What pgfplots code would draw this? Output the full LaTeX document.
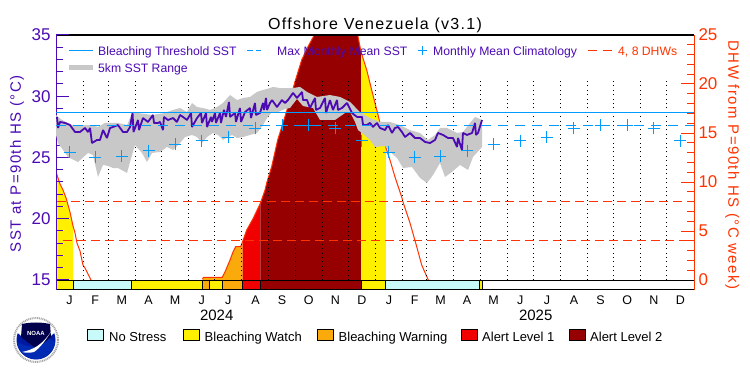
\documentclass[border=0pt]{standalone}
\usepackage{fontspec}
\setmainfont{Liberation Sans}
\usepackage{pgfplots}
\usepackage{pgfplotstable}
\pgfplotsset{compat=1.18}
\definecolor{pur}{RGB}{75,10,180}
\definecolor{blu}{RGB}{0,155,255}
\definecolor{ora}{RGB}{255,51,0}
\definecolor{ywl}{RGB}{255,240,0}
\definecolor{org}{RGB}{250,170,10}
\definecolor{red1}{RGB}{240,0,0}
\definecolor{red2}{RGB}{150,0,0}
\definecolor{cya}{RGB}{200,250,250}
\definecolor{gry}{RGB}{200,200,200}
\pgfplotstableread{
x y
0 28.47
6.9 28.06
18.3 27.65
29.8 27.65
41.2 27.65
48.1 27.49
56.1 27.82
71 27.82
81.4 27.65
87.1 28.63
94 28.63
110 28.47
124.9 28.63
127.2 28.71
134.1 28.88
142.1 29.04
150.1 28.71
155.8 29.45
161.6 29.12
168.4 29.04
176.5 28.88
184.5 29.12
191.3 29.45
199.4 30.10
207.4 29.69
214.3 29.86
222.3 29.94
230.3 30.35
237.2 30.51
245.2 30.67
248.6 30.76
256.7 30.67
271.6 30.67
279.6 30.76
287.6 30.35
299 29.94
313.9 30.10
325.4 29.94
336.9 29.53
348.3 28.71
359.8 28.22
371.2 27.90
382.7 27.90
394.2 27.65
405.6 27.24
417.1 27.00
426.2 26.43
434.3 26.84
440 27.41
448 27.41
459.5 27.00
466.3 27.08
474.4 27.82
480.1 28.31
488.1 28.06
488.1 25.86
477.8 25.04
472.1 23.98
462.9 24.39
453.7 23.82
445.7 23.41
440 24.55
432 23.57
425.1 22.92
417.1 23.33
407.9 24.22
397.6 24.14
390.7 24.96
382.7 25.45
377 25.94
365.5 25.86
359.8 26.43
350.6 27.0
346 27.24
342.6 27.9
336.9 28.71
331.1 28.63
319.7 28.06
302.5 28.06
294.5 29.04
283 29.2
276.1 29.78
268.1 29.04
262.4 28.96
254.4 28.71
247.5 28.71
241.8 28.22
237.2 27.65
230.3 27.0
222.3 26.84
214.3 26.67
207.4 26.59
201.7 26.84
191.3 26.43
185.6 26.84
179.9 27.0
173 26.67
167.3 26.18
161.6 26.67
155.8 26.84
147.8 26.67
142.1 26.18
134.1 25.61
127.2 25.86
119.2 25.45
110 25.37
104.3 24.63
98.5 25.37
90.5 26.02
84.8 24.63
81.4 23.73
71 24.14
65.3 24.14
59.6 24.31
53.9 24.39
48.1 23.41
42.4 25.20
36.7 25.37
25.2 24.63
13.7 25.04
2.3 26.18
0 26.84
}\tabrange
\pgfplotstableread{
x y
1.1 28.31
2.3 27.41
4.6 27.90
10.3 27.82
16 27.65
21.8 27.08
27.5 27.08
33.2 27.41
36.7 27.08
39 27.41
41.2 26.18
47 26.43
50.4 26.43
53.9 27.24
58.4 26.59
61.9 27.41
65.3 27.49
71 27.65
76.8 27.08
81.4 27.08
84.8 27.49
87.7 28.63
88.8 27.08
94 28.06
95.1 27.24
99.7 28.22
105.4 27.90
111.1 28.47
112.3 27.82
116.9 27.82
119.2 27.9
122.6 27.24
123.7 28.31
128.3 28.06
134.1 28.22
138.6 27.9
142.1 28.47
145.5 28.31
150.1 28.06
154.7 28.63
155.8 27.49
161.6 28.22
166.1 28.63
167.3 27.82
171.9 28.63
173 27.49
177.6 28.31
178.7 27.9
182.2 28.63
183.3 27.82
187.9 28.63
189 27.82
192.5 28.88
194.8 28.31
198.2 29.53
199.4 28.31
205.1 28.63
206.2 27.9
210.8 29.04
212 27.9
216.6 28.71
222.3 29.04
223.4 28.22
228 29.45
229.1 28.47
233.7 28.63
237.2 29.45
238.3 28.88
240.6 29.86
241.8 28.88
245.2 29.45
247.5 29.69
253.2 29.12
258.9 29.69
262.4 29.45
265.8 29.69
271.6 30.27
276.1 29.86
281.9 30.35
283 29.69
287.6 29.69
291 29.04
296.8 29.86
297.9 28.88
302.5 29.04
308.2 29.86
309.4 28.63
313.9 29.69
317.4 28.88
322 29.69
323.1 28.88
327.7 29.04
333.4 29.45
339.2 28.63
344.9 28.31
350.6 28.31
351.8 27.65
356.3 27.65
359.8 27.82
363.2 27.49
367.8 27.82
371.2 27.41
377 27.24
380.4 27.65
385 27.0
388.4 27.41
391.9 27.49
396.4 27.08
399.9 26.67
405.6 27.0
411.3 26.59
417.1 26.59
422.8 26.27
428.5 26.18
434.3 26.43
437.7 27.0
443.4 26.84
449.2 26.59
454.9 26.59
459.5 25.86
460.6 26.59
465.2 25.61
466.3 27.0
470.9 26.84
476.7 27.0
480.1 27.82
481.2 26.84
483.5 27.0
488.1 28.06
}\tabsst
\pgfplotstableread{
x y
15.5 25.41
45 25.02
75.5 25.10
106 25.55
136.5 26.06
167 26.37
197.5 26.66
228.5 27.38
259 27.63
289.5 27.63
320 27.38
350.5 26.37
381.5 25.41
411 25.02
440.5 25.10
471 25.55
501.5 26.06
532 26.37
562.5 26.66
593.5 27.38
624 27.63
654.5 27.63
685 27.38
715.5 26.37
}\tabclim
\pgfplotstableread{
x y
0 11.05
2.3 10.4
4.6 9.8
8 9.18
11.5 8.37
16 6.94
19.5 5.5
21.8 4.8
24 3.78
27.5 2.96
30.9 1.53
33.2 1.22
36.7 0.61
40.1 0
}\dhwa
\pgfplotstableread{
x y
167.9 0.07
168.8 0.28
190.5 0.28
193.6 0.82
199.4 2.04
202.8 2.86
205.9 3.4
211.6 3.4
213.7 3.9
218.5 5.1
226 6.3
234.3 7.86
239.5 9.18
241.4 9.9
247.1 11.56
254 14.29
260.1 16.02
268.1 18.37
273.8 20.23
281.5 22.45
288.7 23.81
296 25
320.8 27
345.7 25
349.5 23.27
356 21.43
361.7 19.39
365.5 18.06
369 16.84
378.1 13.47
382.7 12.24
388.4 10.51
396.4 8.37
397.6 7.96
405.6 5.82
413.3 3.4
419 1.53
426.6 0
}\dhwb
\newcommand\strip[3]{\addplot[fill=#3,draw=black,line width=1pt] coordinates {(#1,-1.02)(#1,0)(#2,0)(#2,-1.02)} --cycle;}
\begin{document}
\begin{tikzpicture}[x=1pt,y=1pt]
\useasboundingbox (0,0) rectangle (750,375);
% ---------------- DHW axis
\begin{axis}[
  at={(56pt,85pt)},anchor=south west,scale only axis,width=638pt,height=255pt,
  xmin=0,xmax=731,ymin=-1.02,ymax=25,
  axis y line*=right,axis x line*=bottom,
  y axis line style={color=ora,line width=1pt,-},
  x axis line style={black,line width=1pt,-},
  ytick={0,5,...,25},minor ytick={0,1,...,25},
  tick align=inside,
  major tick length=13pt,minor tick length=7pt,
  ytick style={color=ora,line width=1pt},
  xtick={15.5,45,75.5,106,136.5,167,197.5,228.5,259,289.5,320,350.5,381.5,411,440.5,471,501.5,532,562.5,593.5,624,654.5,685,715.5},
  xticklabels={J,F,M,A,M,J,J,A,S,O,N,D,J,F,M,A,M,J,J,A,S,O,N,D},
  xtick style={draw=none},
  xticklabel style={font=\fontsize{12.5}{12.5}\selectfont,black,yshift=-2pt},
  yticklabels={0,5,10,15,20,\raisebox{-4pt}{25}},
  yticklabel style={font=\fontsize{17}{17}\selectfont,text=ora,xshift=1pt},
  /pgf/number format/assume math mode=true,
  ylabel={\addfontfeature{LetterSpace=9.5}DHW from P=90th HS (°C week)},
  ylabel style={font=\fontsize{15}{15}\selectfont,text=ora,rotate=180,
    at={(axis description cs:1.06,0.49)},anchor=center},
  title={\addfontfeature{LetterSpace=8}Offshore Venezuela (v3.1)},
  title style={font=\fontsize{16}{16}\selectfont,at={(axis description cs:0.5,1)},anchor=center,yshift=4pt},
  clip=true,
]
% areas under the DHW curve
\addplot[fill=ywl,draw=none] coordinates {(0,0)(0,11.05)(2.3,10.4)(4.6,9.8)(8,9.18)(11.5,8.37)(16,6.94)(19.5,5.5)(19.5,0)} --cycle;
\addplot[fill=org,draw=none] coordinates {(167.9,0)(167.9,0.07)(168.8,0.28)(190.5,0.28)(193.6,0.82)(199.4,2.04)(202.8,2.86)(205.9,3.4)(211.6,3.4)(213.7,3.9)(213.7,0)} --cycle;
\addplot[fill=red1,draw=none] coordinates {(213.7,0)(213.7,3.9)(218.5,5.1)(226,6.3)(234.3,7.86)(234.3,0)} --cycle;
\addplot[fill=red2,draw=none] coordinates {(234.3,0)(234.3,7.86)(239.5,9.18)(241.4,9.9)(247.1,11.56)(254,14.29)(260.1,16.02)(268.1,18.37)(273.8,20.23)(281.5,22.45)(288.7,23.81)(296,25)(320.8,27)(345.7,25)(349.5,23.27)(349.5,0)} --cycle;
\addplot[fill=ywl,draw=none] coordinates {(349.5,0)(349.5,23.27)(356,21.43)(361.7,19.39)(365.5,18.06)(369,16.84)(378.1,13.47)(378.1,0)} --cycle;
% DHW curve
\addplot[ora,line width=1pt] table {\dhwa};
\addplot[ora,line width=1pt] table {\dhwb};
% month dotted lines
\pgfplotsinvokeforeach{31,60,91,121,152,182,213,244,274,305,335,366,397,425,456,486,517,547,578,609,639,670,700}{
  \draw[black,line width=1pt,dash pattern=on 1pt off 3.4pt] (axis cs:#1,0) -- (axis cs:#1,20.5);
}
% 4 and 8 DHW
\addplot[ora,line width=1pt,dash pattern=on 9pt off 5pt] coordinates {(8,4)(731,4)};
\addplot[ora,line width=1pt,dash pattern=on 9pt off 5pt] coordinates {(1,8)(731,8)};
% stress strip
\strip{0}{19.5}{ywl}
\strip{19.5}{86.5}{cya}
\strip{86.5}{167.9}{ywl}
\strip{167.9}{175.9}{org}
\strip{175.9}{190.8}{ywl}
\strip{190.8}{213.7}{org}
\strip{213.7}{234.3}{red1}
\strip{234.3}{349.5}{red2}
\strip{349.5}{378.1}{ywl}
\strip{378.1}{485.8}{cya}
\strip{485.8}{488.1}{ywl}
\addplot[black,line width=1pt] coordinates {(488.1,0)(731,0)};
\addplot[black,line width=1.5pt] coordinates {(0,25)(731,25)};
\end{axis}
% ---------------- SST axis
\begin{axis}[
  at={(56pt,85pt)},anchor=south west,scale only axis,width=638pt,height=255pt,
  xmin=0,xmax=731,ymin=14.18,ymax=35,
  axis y line*=left,axis x line*=bottom,
  x axis line style={draw=none},xtick=\empty,
  y axis line style={color=pur,line width=1pt,-},
  ytick={15,20,...,35},minor ytick={15,16,...,35},
  tick align=inside,
  major tick length=13pt,minor tick length=7pt,
  ytick style={color=pur,line width=1pt},
  yticklabels={15,20,25,30,\raisebox{-4pt}{35}},
  yticklabel style={font=\fontsize{17}{17}\selectfont,text=pur,xshift=-2pt},
  /pgf/number format/assume math mode=true,
  ylabel={\addfontfeature{LetterSpace=9.5}SST at P=90th HS (°C)},
  ylabel style={font=\fontsize{15}{15}\selectfont,text=pur,
    at={(axis description cs:-0.061,0.494)},anchor=center},
]
\addplot[fill=gry,draw=none] table {\tabrange} --cycle;
\addplot[pur,line width=1.8pt,line join=bevel] table {\tabsst};
\addplot[blu,line width=1.5pt] coordinates {(0,28.69)(731,28.69)};
\addplot[blu,line width=1pt,dash pattern=on 10pt off 7pt] coordinates {(0,27.63)(731,27.63)};
\addplot[only marks,mark=+,mark size=6pt,blu,line width=1pt] table {\tabclim};
\end{axis}
% ---------------- top legend
\begin{scope}[every node/.style={font=\fontsize{12.2}{12}\selectfont,anchor=base west,inner sep=0pt}]
\draw[blu,line width=1pt] (69,324)--(93,324);
\node[text=pur] at (98,319) {Bleaching Threshold SST};
\draw[blu,line width=1pt,dash pattern=on 6pt off 3pt] (247,324)--(261,324);
\node[text=pur] at (277,319) {Max Monthly Mean SST};
\draw[blu,line width=1pt] (418,324)--(427,324) (422.5,319.5)--(422.5,328.5);
\node[text=pur] at (433,319) {Monthly Mean Climatology};
\draw[ora,line width=1pt,dash pattern=on 9pt off 5.5pt] (588,324)--(612,324);
\node[text=ora] at (618,319) {4, 8 DHWs};
\draw[gry,line width=5pt] (69,307)--(93,307);
\node[text=pur] at (98,302) {5km SST Range};
\end{scope}
% ---------------- years
\node[font=\fontsize{15}{15}\selectfont] at (216.7,59.3) {2024};
\node[font=\fontsize{15}{15}\selectfont] at (535.7,59.3) {2025};
% ---------------- bottom legend
\begin{scope}[every node/.style={font=\fontsize{13}{13}\selectfont,anchor=base west,inner sep=0pt}]
\draw[fill=cya,line width=1pt] (87.5,34.5) rectangle (103.5,45);
\node at (109,34) {No Stress};
\draw[fill=ywl,line width=1pt] (183.5,34.5) rectangle (199.5,45);
\node at (204.5,34) {Bleaching Watch};
\draw[fill=org,line width=1pt] (317.5,34.5) rectangle (333.5,45);
\node at (338.5,34) {Bleaching Warning};
\draw[fill=red1,line width=1pt] (461.5,34.5) rectangle (477.5,45);
\node at (482,34) {Alert Level 1};
\draw[fill=red2,line width=1pt] (569.5,34.5) rectangle (585.5,45);
\node at (590,34) {Alert Level 2};
\end{scope}
% ---------------- NOAA logo
\begin{scope}[shift={(36,35)}]
\fill[white] (0,0) circle (23);
\draw[gray!70,line width=2pt,dash pattern=on 1pt off 0.8pt] (0,0) circle (22);
\fill[blue!60!black!90!cyan] (0,0) circle (19.5);
\fill[white] (-19.5,8) arc (155:25:21.5) -- (17,6) -- (0,-9) -- (-17,6) -- cycle;
\fill[blu!40!blue!70!black] (-19,-2) arc (186:354:19.2) -- (12,2) .. controls (5,-9) and (-5,-9) .. (-19,-2) -- cycle;
\fill[black!50!blue!60!black] (-14,16) .. controls (-5,18) and (5,18) .. (14,16) -- (15,3) .. controls (8,-3) and (3,-6) .. (0,-9) .. controls (-3,-6) and (-8,-3) .. (-15,3) -- cycle;
\node[text=white,font=\bfseries\fontsize{6}{6}\selectfont,inner sep=0pt] at (0,7) {NOAA};
\fill[white] (-14,-12) .. controls (-4,-10) and (6,-6) .. (16,10) .. controls (10,0) and (4,-8) .. (-2,-12) .. controls (-6,-13) and (-10,-13) .. (-14,-12) -- cycle;
\end{scope}
\end{tikzpicture}
\end{document}
